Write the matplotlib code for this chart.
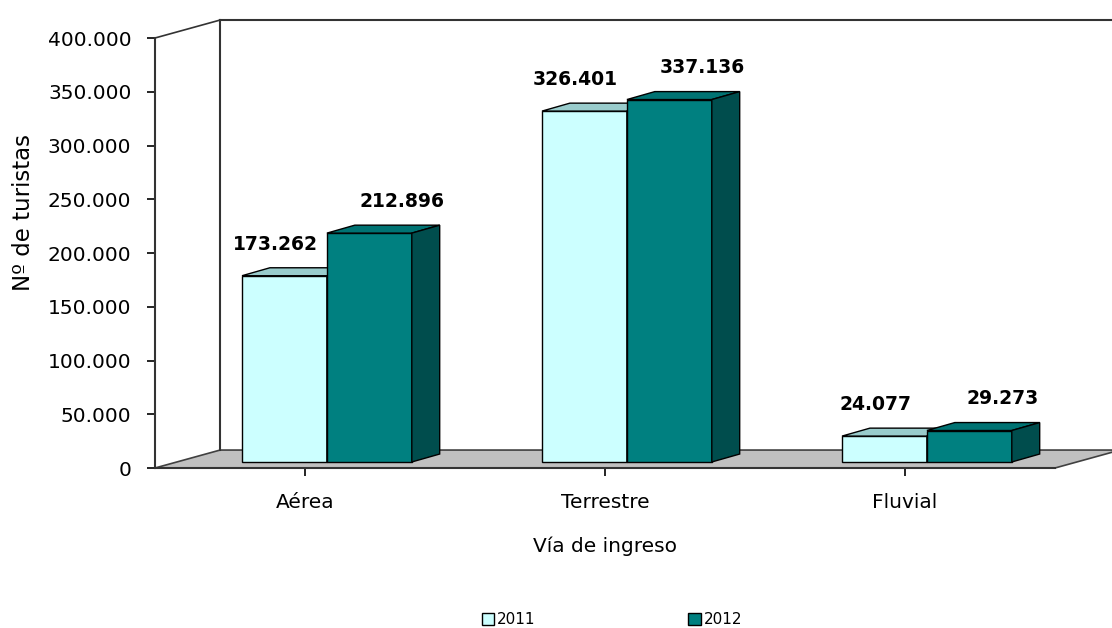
import numpy as np
import matplotlib.pyplot as plt
from matplotlib.patches import Polygon
from matplotlib.ticker import FuncFormatter

categorias = ["Aérea", "Terrestre", "Fluvial"]
series = ["2011", "2012"]
v2011 = [173262, 326401, 24077]
v2012 = [212896, 337136, 29273]

front = {"2011": "#ccffff", "2012": "#008080"}
top = {"2011": "#99cccc", "2012": "#007373"}
side = {"2011": "#80b3b3", "2012": "#004d4d"}

plt.rcParams['font.family'] = ['DejaVu Sans']
fig = plt.figure(figsize=(11.12, 6.28), dpi=100)
ax = fig.add_axes([155 / 1112, 160 / 628, 900 / 1112, 430 / 628])
ax.set_xlim(-0.5, 2.5)
ax.set_ylim(0, 400000)

# depth of the box (wall/floor) and of the bars, in data units
D, DY = 0.217, 16700
bx, by = 0.073, 5600
bdx, bdy = 0.093, 7400
w = 0.283

def poly(pts, fc, z, ec="black", lw=1.0):
    ax.add_patch(Polygon(pts, closed=True, facecolor=fc, edgecolor=ec,
                         linewidth=lw, clip_on=False, zorder=z))

# floor
poly([(-0.5, 0), (2.5, 0), (2.5 + D, DY), (-0.5 + D, DY)], "#c0c0c0", 1, ec="#404040", lw=1.2)
# back wall
ax.plot([-0.5 + D, -0.5 + D], [DY, 400000 + DY], color="#333333", lw=1.5, clip_on=False, zorder=1)
ax.plot([-0.5 + D, 2.5 + D], [400000 + DY, 400000 + DY], color="#333333", lw=1.5, clip_on=False, zorder=1)
ax.plot([-0.5, -0.5 + D], [400000, 400000 + DY], color="#333333", lw=1.2, clip_on=False, zorder=1)

x = np.arange(len(categorias))
for j, (s, vals) in enumerate([("2011", v2011), ("2012", v2012)]):
    x0s = x - w + j * w + bx
    ax.bar(x0s, vals, width=w, bottom=by, align="edge", color=front[s],
           edgecolor="black", linewidth=1.0, zorder=3 + j * 2, label=s, clip_on=False)
    for x0, v in zip(x0s, vals):
        poly([(x0, v + by), (x0 + w, v + by), (x0 + w + bdx, v + by + bdy), (x0 + bdx, v + by + bdy)],
             top[s], 3 + j * 2)
        poly([(x0 + w, by), (x0 + w + bdx, by + bdy), (x0 + w + bdx, v + by + bdy), (x0 + w, v + by)],
             side[s], 3 + j * 2)
        lx = x0 + w / 2 + (-0.03 if j == 0 else 0.11)
        ax.annotate(f"{v:,}".replace(",", "."), (lx, v + by), xytext=(0, 16),
                    textcoords="offset points", ha="center", va="bottom",
                    fontsize=13.5, fontweight="bold", zorder=10)

for sp in ["top", "right"]:
    ax.spines[sp].set_visible(False)
ax.spines["left"].set_color("#333333")
ax.spines["left"].set_linewidth(1.5)
ax.spines["bottom"].set_color("#333333")
ax.spines["bottom"].set_linewidth(1.5)
ax.set_yticks(np.arange(0, 400001, 50000))
ax.yaxis.set_major_formatter(FuncFormatter(lambda v, p: f"{int(v):,}".replace(",", ".")))
ax.set_xticks(x)
ax.set_xticklabels(categorias)
ax.tick_params(axis="both", labelsize=14.5, length=6, width=1.2, color="black")
ax.tick_params(axis="y", pad=11)
ax.tick_params(axis="x", pad=12)
ax.set_xlabel("Vía de ingreso", fontsize=14.5, labelpad=18)
ax.set_ylabel("Nº de turistas", fontsize=16.5)
ax.yaxis.set_label_coords(-0.133, 0.595)
ax.patch.set_alpha(0)

fig.legend(loc="center", bbox_to_anchor=(612 / 1112, 1 - 620 / 628), ncol=2, frameon=False,
           fontsize=11, handlelength=0.8, handleheight=0.8, handletextpad=0.2, columnspacing=10)

fig.savefig("out.png", dpi=100)
